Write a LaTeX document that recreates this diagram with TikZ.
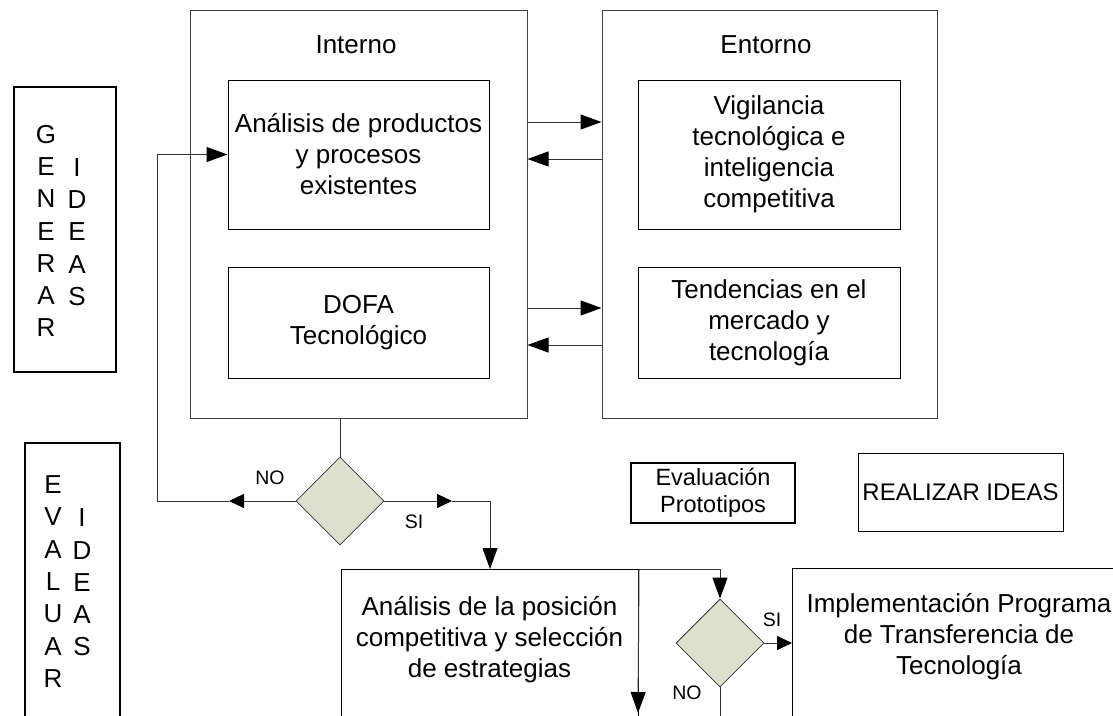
\documentclass[tikz,border=0pt]{standalone}
\usepackage{fontspec}
\setmainfont{Liberation Sans}
\usetikzlibrary{shapes.geometric, arrows.meta}
\definecolor{rombo}{RGB}{221,224,204}

\begin{document}
\begin{tikzpicture}[
    x=1pt, y=-1pt,
    every node/.style={font=\fontsize{26}{31}\selectfont, align=center},
    caja/.style={draw, line width=1pt, inner sep=0pt},
    grupo/.style={draw=black!75, line width=1pt, inner sep=0pt},
    marco/.style={draw, line width=2pt, inner sep=0pt},
    letras/.style={font=\fontsize{26}{32.3}\selectfont},
    decision/.style={diamond, draw=black!80, fill=rombo, line width=0.8pt,
      minimum width=88pt, minimum height=88pt, inner sep=0pt},
    etiqueta/.style={font=\fontsize{19.5}{23}\selectfont},
    arr/.style={draw=black!80, line width=1pt,
      -{Triangle[length=21pt, width=15pt, color=black]}},
    arrc/.style={draw=black!80, line width=1pt,
      -{Triangle[length=15pt, width=14pt, color=black]}},
    linea/.style={draw=black!80, line width=1pt}
  ]
    \useasboundingbox (0,0) rectangle (1113,715);

    % fases
    \node[marco, minimum width=102pt, minimum height=285pt] (generar) at (65,229.5) {};
    \node[letras] (gen1) at (46,231) {G\\E\\N\\E\\R\\A\\R};
    \node[letras] (gen2) at (77,232) {I\\D\\E\\A\\S};
    \node[marco, minimum width=95pt, minimum height=330pt, anchor=north west] (evaluar) at (24,442) {};
    \node[letras] (eva1) at (53,581.5) {E\\V\\A\\L\\U\\A\\R};
    \node[letras] (eva2) at (82,582.5) {I\\D\\E\\A\\S};

    % interno / entorno
    \node[grupo, minimum width=337pt, minimum height=408pt] (interno) at (358.5,214) {};
    \node (tinterno) at (356,45) {Interno};
    \node[caja, minimum width=261pt, minimum height=149pt] (ana1) at (358.5,154.5)
        {Análisis de productos\\y procesos\\existentes};
    \node[caja, minimum width=261pt, minimum height=111pt] (dofa) at (358.5,322.5)
        {DOFA\\Tecnológico};

    \node[grupo, minimum width=335pt, minimum height=408pt] (entorno) at (769.5,214) {};
    \node (tentorno) at (766,45) {Entorno};
    \node[caja, minimum width=262pt, minimum height=149pt] (vig) at (769,154.5)
        {Vigilancia\\tecnológica e\\inteligencia\\competitiva};
    \node[caja, minimum width=262pt, minimum height=111pt] (tend) at (769,322.5)
        {Tendencias en el\\mercado y\\tecnología};

    \draw[arr] ([yshift=92pt]interno.east) -- ([yshift=92pt]entorno.west);
    \draw[arr] ([yshift=55pt]entorno.west) -- ([yshift=55pt]interno.east);
    \draw[arr] ([yshift=-94pt]interno.east) -- ([yshift=-94pt]entorno.west);
    \draw[arr] ([yshift=-131pt]entorno.west) -- ([yshift=-131pt]interno.east);

    % primera decision
    \node[decision] (d1) at (340,501) {};
    \draw[linea] (d1.north |- interno.south) -- (d1.north);
    \coordinate (flechano) at (229,501);
    \coordinate (retorno) at (157,501);
    \draw[arrc] (d1.west) -- (flechano);
    \draw[arr] (flechano) -- (retorno) |- (ana1.west);
    \node[etiqueta] (no1) at (270,478) {NO};

    \node[caja, minimum width=297pt, minimum height=200pt, anchor=north west] (ana2) at (341,569) {};
    \node (tana2) at (489.5,640) {Análisis de la posición\\competitiva y selección\\de estrategias};
    \coordinate (flechasi) at (452,501);
    \draw[arrc] (d1.east) -- (flechasi);
    \draw[arr] (flechasi) -| (ana2.north);
    \node[etiqueta] (si1) at (414,522) {SI};

    % segunda decision
    \node[decision] (d2) at (720,643) {};
    \coordinate (fin) at (638,713);
    \draw[arr] (ana2.north east) -- (fin);
    \draw[arr] (ana2.north east) -| (d2.north);
    \node[caja, minimum width=400pt, minimum height=200pt, anchor=north west] (impl) at (792,568) {};
    \node (timpl) at (959,637) {Implementación Programa\\de Transferencia de\\Tecnología};
    \draw[arrc] (d2.east) -- (d2.east -| impl.west);
    \draw[linea] (d2.south) -- ++(0,40);
    \node[etiqueta] (si2) at (772,620) {SI};
    \node[etiqueta] (no2) at (687,693) {NO};

    % cajas sueltas
    \node[marco, minimum width=164pt, minimum height=60pt,
      font=\fontsize{23.5}{27}\selectfont] (proto) at (713,493) {Evaluación\\Prototipos};
    \node[caja, minimum width=205pt, minimum height=78pt,
      font=\fontsize{24}{28}\selectfont] (realizar) at (960.5,492) {REALIZAR IDEAS};
\end{tikzpicture}
\end{document}
